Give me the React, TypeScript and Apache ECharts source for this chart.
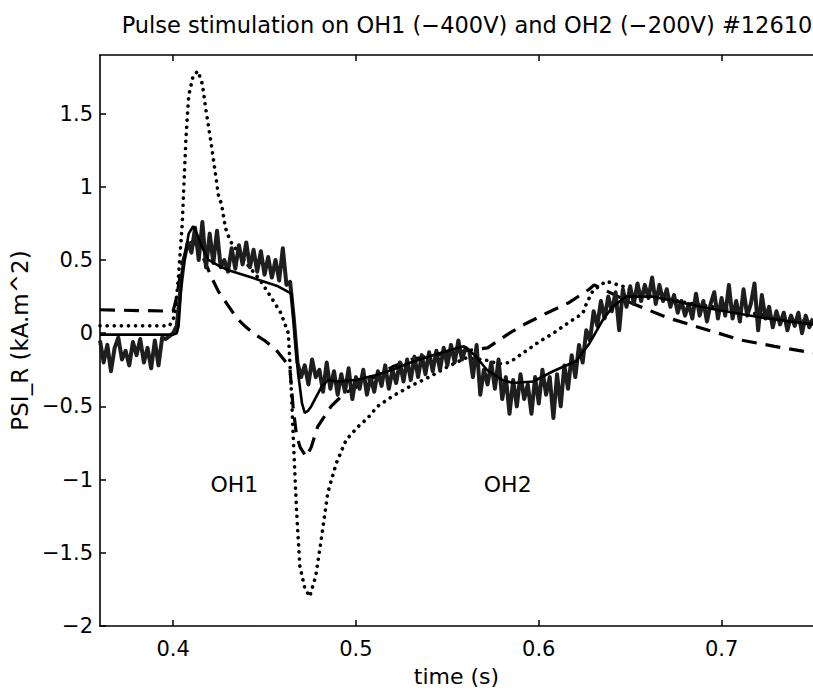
import React, { useEffect, useRef } from "react";
import * as echarts from "echarts";

// Axis ranges and tick positions
const timeRange = [0.36, 0.75];
const psiRange = [-2, 1.9];
const timeTicks = [0.4, 0.5, 0.6, 0.7];
const psiTicks = [-2, -1.5, -1, -0.5, 0, 0.5, 1, 1.5];

// Measured PSI_R signal (time s, kA.m^2)
const measured: [number, number][] = [
  [0.360, -0.05], [0.362, -0.2], [0.364, -0.08], [0.366, -0.26], [0.368, -0.1], [0.370, -0.03],
  [0.372, -0.18], [0.374, -0.12], [0.376, -0.22], [0.378, -0.06], [0.380, -0.15], [0.382, -0.04],
  [0.384, -0.2], [0.386, -0.1], [0.388, -0.24], [0.390, -0.05], [0.392, -0.22], [0.394, -0.03],
  [0.396, -0.04], [0.398, -0.02], [0.400, 0.0],
  [0.402, 0.05], [0.404, 0.3], [0.406, 0.5], [0.408, 0.62], [0.410, 0.55], [0.412, 0.72],
  [0.414, 0.5], [0.416, 0.76], [0.418, 0.45], [0.420, 0.68], [0.422, 0.48], [0.424, 0.7], [0.426, 0.45],
  [0.428, 0.5], [0.430, 0.42], [0.432, 0.58], [0.434, 0.44], [0.436, 0.6], [0.438, 0.47],
  [0.440, 0.62], [0.442, 0.45], [0.444, 0.57], [0.446, 0.42], [0.448, 0.56], [0.450, 0.4],
  [0.452, 0.52], [0.454, 0.38], [0.456, 0.5], [0.458, 0.36], [0.460, 0.58], [0.462, 0.33],
  [0.464, 0.35], [0.466, 0.1], [0.468, -0.2], [0.470, -0.3],
  [0.472, -0.22], [0.474, -0.35], [0.476, -0.18], [0.478, -0.3], [0.480, -0.25], [0.482, -0.4],
  [0.484, -0.2], [0.486, -0.38], [0.488, -0.26], [0.490, -0.42], [0.492, -0.28], [0.494, -0.4],
  [0.496, -0.24], [0.498, -0.45], [0.500, -0.3],
  [0.502, -0.38], [0.504, -0.25], [0.506, -0.42], [0.508, -0.3], [0.510, -0.4], [0.512, -0.26],
  [0.514, -0.36], [0.516, -0.22], [0.518, -0.38], [0.520, -0.25], [0.522, -0.34], [0.524, -0.2],
  [0.526, -0.33], [0.528, -0.18], [0.530, -0.32], [0.532, -0.16], [0.534, -0.3], [0.536, -0.15],
  [0.538, -0.28], [0.540, -0.13], [0.542, -0.26], [0.544, -0.12], [0.546, -0.25], [0.548, -0.1],
  [0.550, -0.22], [0.552, -0.08], [0.554, -0.2], [0.556, -0.05], [0.558, -0.18], [0.560, -0.1],
  [0.562, -0.12], [0.564, -0.3], [0.566, -0.08], [0.568, -0.42], [0.570, -0.25], [0.572, -0.35],
  [0.574, -0.2], [0.576, -0.38], [0.578, -0.18], [0.580, -0.45], [0.582, -0.3], [0.584, -0.55],
  [0.586, -0.32], [0.588, -0.5], [0.590, -0.28], [0.592, -0.45], [0.594, -0.35], [0.596, -0.55],
  [0.598, -0.3], [0.600, -0.48], [0.602, -0.25], [0.604, -0.42], [0.606, -0.3], [0.608, -0.58],
  [0.610, -0.28], [0.612, -0.5], [0.614, -0.22], [0.616, -0.38], [0.618, -0.15], [0.620, -0.3],
  [0.622, -0.08], [0.624, -0.2], [0.626, 0.02], [0.628, -0.05], [0.630, 0.15], [0.632, 0.05],
  [0.634, 0.22], [0.636, 0.1], [0.638, 0.25], [0.640, 0.15],
  [0.642, 0.28], [0.644, 0.02], [0.646, 0.3], [0.648, 0.18], [0.650, 0.32], [0.652, 0.2],
  [0.654, 0.34], [0.656, 0.22], [0.658, 0.33], [0.660, 0.24], [0.662, 0.38], [0.664, 0.2],
  [0.666, 0.33], [0.668, 0.22], [0.670, 0.3],
  [0.672, 0.18], [0.674, 0.26], [0.676, 0.14], [0.678, 0.22], [0.680, 0.12], [0.682, 0.2],
  [0.684, 0.1], [0.686, 0.27], [0.688, 0.12], [0.690, 0.22], [0.692, 0.08], [0.694, 0.2],
  [0.696, 0.28], [0.698, 0.1], [0.700, 0.24], [0.702, 0.12], [0.704, 0.33], [0.706, 0.1],
  [0.708, 0.22], [0.710, 0.08], [0.712, 0.3], [0.714, 0.12], [0.716, 0.2], [0.718, 0.34],
  [0.720, 0.02], [0.722, 0.26], [0.724, 0.1], [0.726, 0.18], [0.728, 0.04], [0.730, 0.15],
  [0.732, 0.06], [0.734, 0.14], [0.736, 0.02], [0.738, 0.12], [0.740, 0.05], [0.742, 0.14],
  [0.744, 0.0], [0.746, 0.12], [0.748, 0.04], [0.750, 0.1],
];

// Smooth model response (solid)
const modelSolid: [number, number][] = [
  [0.36, -0.01], [0.40, -0.01], [0.402, 0.0], [0.403, 0.05], [0.4049, 0.41], [0.4085, 0.68],
  [0.411, 0.73], [0.413, 0.68], [0.4158, 0.59], [0.4194, 0.5], [0.425, 0.46], [0.4303, 0.43],
  [0.443, 0.38], [0.4574, 0.32], [0.4647, 0.27], [0.4665, 0.0], [0.4683, -0.27], [0.4705, -0.48],
  [0.472, -0.545], [0.4738, -0.53], [0.4755, -0.5], [0.481, -0.37], [0.4846, -0.32], [0.49, -0.33],
  [0.50, -0.32], [0.51, -0.29], [0.52, -0.25], [0.53, -0.2], [0.54, -0.16], [0.55, -0.12],
  [0.559, -0.09], [0.565, -0.15], [0.5716, -0.25], [0.58, -0.32], [0.586, -0.34], [0.597, -0.33],
  [0.6078, -0.26], [0.6205, -0.19], [0.6277, -0.07], [0.635, 0.09], [0.6404, 0.18], [0.6477, 0.25],
  [0.662, 0.25], [0.6928, 0.17], [0.72, 0.11], [0.75, 0.06],
];

// Model response (dashed)
const modelDashed: [number, number][] = [
  [0.36, 0.16], [0.40, 0.15], [0.402, 0.25], [0.405, 0.48], [0.408, 0.6], [0.411, 0.63],
  [0.414, 0.58], [0.417, 0.5], [0.421, 0.38], [0.425, 0.28], [0.43, 0.19], [0.435, 0.1],
  [0.44, 0.04], [0.445, -0.01], [0.45, -0.05], [0.456, -0.11], [0.4638, -0.23], [0.4656, -0.5],
  [0.4675, -0.7], [0.4695, -0.78], [0.4728, -0.845], [0.4755, -0.78], [0.479, -0.64], [0.4864, -0.5],
  [0.4937, -0.41], [0.50, -0.37], [0.51, -0.3], [0.52, -0.23], [0.53, -0.18], [0.548, -0.14],
  [0.572, -0.1], [0.584, 0.0], [0.5933, 0.068], [0.6042, 0.136], [0.6167, 0.21], [0.6276, 0.3],
  [0.6303, 0.33], [0.6368, 0.29], [0.65, 0.21], [0.6694, 0.11], [0.6928, 0.02], [0.711, -0.048],
  [0.729, -0.09], [0.75, -0.135],
];

// Model response (dotted)
const modelDotted: [number, number][] = [
  [0.36, 0.05], [0.398, 0.05], [0.401, 0.12], [0.403, 0.4], [0.405, 0.75], [0.407, 1.33],
  [0.4085, 1.62], [0.411, 1.76], [0.4136, 1.79], [0.416, 1.7], [0.418, 1.52], [0.421, 1.28],
  [0.4248, 0.94], [0.4265, 0.88], [0.4286, 0.72], [0.4312, 0.63], [0.4373, 0.52], [0.4477, 0.36],
  [0.4536, 0.245], [0.459, 0.136], [0.463, 0.0], [0.4645, -0.35], [0.4656, -0.68], [0.4675, -1.21],
  [0.4693, -1.59], [0.472, -1.74], [0.4747, -1.8], [0.478, -1.66], [0.481, -1.41], [0.4846, -1.09],
  [0.4892, -0.89], [0.4946, -0.73], [0.501, -0.64], [0.5064, -0.58], [0.5118, -0.5], [0.52, -0.43],
  [0.53, -0.36], [0.54, -0.3], [0.55, -0.23], [0.56, -0.17], [0.57, -0.18], [0.578, -0.21],
  [0.584, -0.2], [0.592, -0.13], [0.600, -0.06], [0.608, 0.0], [0.616, 0.07], [0.6241, 0.136],
  [0.626, 0.2], [0.6296, 0.29], [0.6368, 0.355], [0.646, 0.32], [0.6513, 0.29], [0.66, 0.26],
  [0.68, 0.21], [0.70, 0.17], [0.72, 0.13], [0.75, 0.08],
];

// Text annotations placed in data coordinates
const annotations = [
  { name: "OH1", value: [0.4335, -1.036] },
  { name: "OH2", value: [0.583, -1.036] },
];

const FONT = "DejaVu Sans";

const fmt = (v: number) => (v < 0 ? "\u2212" + String(Math.abs(v)) : String(v));

export default function App() {
  const ref = useRef<HTMLDivElement>(null);

  useEffect(() => {
    if (!ref.current) return;
    const chart = echarts.init(ref.current, undefined, { renderer: "svg" });
    const axisLine = { show: true, onZero: false, lineStyle: { color: "#000", width: 1.6 } };
    const tick = { inside: true, length: 6, lineStyle: { color: "#000", width: 1.5 } };
    chart.setOption({
      animation: false,
      backgroundColor: "#fff",
      title: {
        text: "Pulse stimulation on OH1 (\u2212400V) and OH2 (\u2212200V) #12610",
        left: 462,
        top: 8,
        textAlign: "center",
        textStyle: { fontFamily: FONT, fontSize: 22.5, fontWeight: "normal", color: "#000" },
      },
      grid: { left: 100, top: 55, right: -6, bottom: 65 },
      xAxis: [
        {
          type: "value",
          min: timeRange[0],
          max: timeRange[1],
          name: "time (s)",
          nameLocation: "middle",
          nameGap: 39,
          nameTextStyle: { fontFamily: FONT, fontSize: 22, color: "#000" },
          axisLine,
          splitLine: { show: false },
          axisTick: { ...tick, customValues: timeTicks },
          axisLabel: {
            customValues: timeTicks,
            margin: 12,
            fontFamily: FONT,
            fontSize: 21,
            color: "#000",
            formatter: fmt,
          },
        },
        {
          type: "value",
          position: "top",
          min: timeRange[0],
          max: timeRange[1],
          axisLine,
          splitLine: { show: false },
          axisTick: { ...tick, customValues: timeTicks },
          axisLabel: { show: false },
        },
      ],
      yAxis: {
        type: "value",
        min: psiRange[0],
        max: psiRange[1],
        name: "PSI_R (kA.m^2)",
        nameLocation: "middle",
        nameGap: 66,
        nameRotate: 90,
        nameTextStyle: { fontFamily: FONT, fontSize: 23, color: "#000" },
        axisLine,
        splitLine: { show: false },
        axisTick: { ...tick, customValues: psiTicks },
        axisLabel: {
          customValues: psiTicks,
          margin: 7,
          fontFamily: FONT,
          fontSize: 21,
          color: "#000",
          formatter: fmt,
        },
      },
      series: [
        {
          type: "line",
          data: modelDashed,
          showSymbol: false,
          lineStyle: { color: "#000", width: 3.2, type: [15, 9], cap: "butt" },
          z: 2,
        },
        {
          type: "line",
          data: modelDotted,
          showSymbol: false,
          lineStyle: { color: "#000", width: 3.6, type: [0.1, 7], cap: "round" },
          z: 2,
        },
        {
          type: "line",
          data: measured,
          showSymbol: false,
          lineStyle: { color: "#1e1e1e", width: 4, join: "round" },
          z: 3,
        },
        {
          type: "line",
          data: modelSolid,
          showSymbol: false,
          lineStyle: { color: "#000", width: 2.6 },
          z: 4,
        },
        {
          type: "scatter",
          data: annotations,
          symbolSize: 0,
          silent: true,
          itemStyle: { opacity: 1 },
          label: {
            show: true,
            position: "inside",
            formatter: "{b}",
            fontFamily: FONT,
            fontSize: 22,
            color: "#000",
            opacity: 1,
          },
          z: 5,
        },
      ],
    });
    return () => chart.dispose();
  }, []);

  return (
    <div
      ref={ref}
      style={{ position: "absolute", left: 0, top: 0, width: 813, height: 692 }}
    />
  );
}
